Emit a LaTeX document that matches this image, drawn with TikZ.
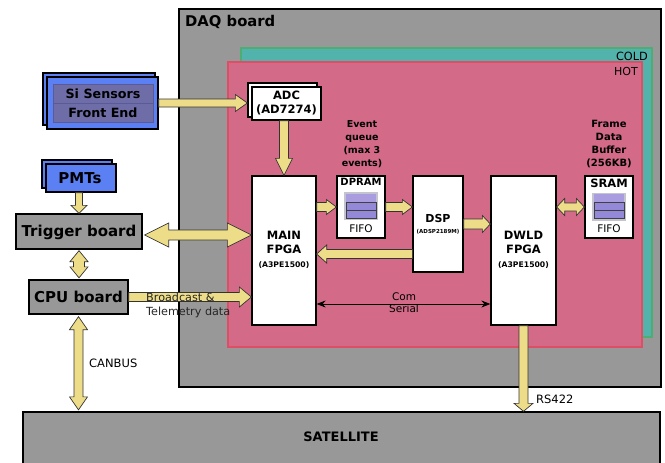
\documentclass[tikz,border=0pt]{standalone}
\usepackage{fontspec}
\setmainfont{DejaVu Sans}
\usetikzlibrary{calc,fit,arrows.meta}
\definecolor{daqgray}{HTML}{989898}
\definecolor{coldfill}{HTML}{52B3AC}
\definecolor{colddraw}{HTML}{4EAD72}
\definecolor{hotfill}{HTML}{D36A88}
\definecolor{hotdraw}{HTML}{DE4F66}
\definecolor{sensblue}{HTML}{5B80F4}
\definecolor{sensin}{HTML}{6E6DA8}
\definecolor{sensedge}{HTML}{5A5A98}
\definecolor{arrowyel}{HTML}{EEDD88}
\definecolor{fifoframe}{HTML}{C4C4D0}
\definecolor{fifotop}{HTML}{A99DE0}
\definecolor{fifobar}{HTML}{9488D8}
\tikzset{
  box/.style={draw=black, line width=1.3pt, inner sep=0pt},
  fatarr/.style={fill=arrowyel, draw=black!80, line width=0.7pt, line join=miter},
  bt/.style={font=\bfseries\fontsize{#1}{#1}\selectfont, inner sep=0pt, text height=#1*0.73pt, text depth=0pt},
  rt/.style={font=\fontsize{#1}{#1}\selectfont, inner sep=0pt, text height=#1*0.73pt, text depth=0pt},
  fifoicon/.pic={
    \fill[fifoframe] (-17,-14) rectangle (17,14);
    \fill[fifotop] (-15,-12.5) rectangle (15,12);
    \draw[fill=fifobar, draw=black!75, line width=0.8pt] (-15,-4) rectangle (15,4);
    \draw[fill=fifobar, draw=black!75, line width=0.8pt] (-15,4) rectangle (15,12);
  }
}
\newcommand{\fatone}[5]{%
  \coordinate (fH) at ($(#2)!#5!(#1)$);
  \filldraw[fatarr] ($(#1)!#3!90:(#2)$) -- ($(fH)!#3!90:(#2)$) -- ($(fH)!#4!90:(#2)$) -- (#2)
    -- ($(fH)!#4!-90:(#2)$) -- ($(fH)!#3!-90:(#2)$) -- ($(#1)!#3!-90:(#2)$) -- cycle;}
\newcommand{\fattwo}[5]{%
  \coordinate (fHa) at ($(#1)!#5!(#2)$);
  \coordinate (fHb) at ($(#2)!#5!(#1)$);
  \filldraw[fatarr] (#1) -- ($(fHa)!#4!90:(#2)$) -- ($(fHa)!#3!90:(#2)$) -- ($(fHb)!#3!90:(#2)$)
    -- ($(fHb)!#4!90:(#2)$) -- (#2) -- ($(fHb)!#4!-90:(#2)$) -- ($(fHb)!#3!-90:(#2)$)
    -- ($(fHa)!#3!-90:(#2)$) -- ($(fHa)!#4!-90:(#2)$) -- cycle;}
\begin{document}
\begin{tikzpicture}[x=1pt,y=-1pt]
\useasboundingbox (0,0) rectangle (665,463);
% DAQ board and thermal zones
\node[box, fill=daqgray, fit={(179,9) (661,387)}] (daq) {};
\node[bt=14.8, anchor=west] (daqlbl) at (185,21) {DAQ board};
\node[fit={(241,48) (652,337)}, inner sep=0pt, draw=colddraw, fill=coldfill, line width=1.4pt] (cold) {};
\node[rt=11.3, anchor=east] (coldlbl) at (648,56) {COLD};
\node[fit={(228,62) (642,347)}, inner sep=0pt, draw=hotdraw, fill=hotfill, line width=1.4pt] (hot) {};
\node[rt=11, anchor=east] (hotlbl) at (638,71) {HOT};
% Si sensors
\node[box, fill=sensblue, fit={(43,73) (155,125)}] (sib) {};
\node[box, fill=sensblue, fit={(47,77) (158,129)}] (si) {};
\node[fit={(53,84) (153,103)}, inner sep=0pt, draw=sensedge, fill=sensin, line width=0.8pt] (sitop) {};
\node[fit={(53,103) (153,122)}, inner sep=0pt, draw=sensedge, fill=sensin, line width=0.8pt] (sibot) {};
\node[bt=12.7] (sitxt) at (103,94) {Si Sensors};
\node[bt=12.7] (fetxt) at (103,113) {Front End};
% PMTs
\node[box, fill=sensblue, fit={(42,160) (112,188)}] (pmtb) {};
\node[box, fill=sensblue, fit={(46,164) (116,192)}] (pmt) {};
\node[bt=15] (pmttxt) at (80,178) {PMTs};
% Trigger / CPU
\node[box, fill=daqgray, fit={(16,214) (142,249)}] (trig) {};
\node[bt=15] (trigtxt) at (79,231) {Trigger board};
\node[box, fill=daqgray, fit={(29,280) (128,314)}] (cpu) {};
\node[bt=15] (cputxt) at (78.5,297) {CPU board};
% Satellite
\node[box, fill=daqgray, fit={(23,412) (660,468)}] (sat) {};
\node[bt=13] (sattxt) at (341,437) {SATELLITE};
% ADC
\node[box, fill=white, fit={(248,83) (317,117)}] (adcb) {};
\node[box, fill=white, fit={(252,87) (321,120)}] (adc) {};
\node[bt=11.5] (adct1) at (286.5,95) {ADC};
\node[bt=11.5] (adct2) at (286.5,109) {(AD7274)};
% MAIN FPGA
\node[box, fill=white, fit={(252,176) (316,325)}] (main) {};
\node[bt=11.5] (maint1) at (284,235) {MAIN};
\node[bt=11.5] (maint2) at (284,249) {FPGA};
\node[bt=7.7] (maint3) at (284,265) {(A3PE1500)};
% DPRAM
\node[box, fill=white, fit={(337,176) (385,238)}] (dpram) {};
\node[bt=10] (dpramt) at (361,182) {DPRAM};
\pic at (361,206) {fifoicon};
\node[rt=10.5] (dpramf) at (361,229) {FIFO};
\node[bt=9.5] (eq1) at (362,124) {Event};
\node[bt=9.5] (eq2) at (362,137) {queue};
\node[bt=9.5] (eq3) at (362,150) {(max 3};
\node[bt=9.5] (eq4) at (362,163) {events)};
% DSP
\node[box, fill=white, fit={(413,176) (463,272)}] (dsp) {};
\node[bt=11] (dspt1) at (438,218) {DSP};
\node[bt=5.5] (dspt2) at (438,231) {(ADSP2189M)};
% DWLD FPGA
\node[box, fill=white, fit={(491,176) (556,325)}] (dwld) {};
\node[bt=11.5] (dwldt1) at (523.5,235) {DWLD};
\node[bt=11.5] (dwldt2) at (523.5,249) {FPGA};
\node[bt=7.7] (dwldt3) at (523.5,265) {(A3PE1500)};
% SRAM
\node[box, fill=white, fit={(585,176) (633,238)}] (sram) {};
\node[bt=11.5] (sramt) at (609,183) {SRAM};
\pic at (609,206.5) {fifoicon};
\node[rt=10.5] (sramf) at (609,229) {FIFO};
\node[bt=10] (fb1) at (609,124) {Frame};
\node[bt=10] (fb2) at (609,137) {Data};
\node[bt=10] (fb3) at (609,150) {Buffer};
\node[bt=10] (fb4) at (609,163) {(256KB)};
% connector end points
\coordinate (siend) at (adcb.west |- si.east);
\coordinate (adcstart) at (main.north |- adc.south);
\coordinate (pmtstart) at (trig.north |- pmt.south);
\coordinate (trigst) at ([shift={(2,3.5)}]trig.east);
\coordinate (trigen) at (main.west |- trigst);
\coordinate (tcA) at ([yshift=-1pt]trig.south);
\coordinate (tcB) at ([yshift=1.5pt]trig.south |- cpu.north);
\coordinate (cpuend) at (main.west |- cpu.east);
\coordinate (csA) at ([yshift=-2pt]cpu.south);
\coordinate (csB) at ([yshift=1.5pt]cpu.south |- sat.north);
\coordinate (mdA) at (main.east |- dpram.west);
\coordinate (ddB) at (dsp.west |- dpram.east);
\coordinate (dwB) at (dwld.west |- dsp.east);
\coordinate (dmA) at (dsp.west |- 0,254);
\coordinate (dmB) at (main.east |- dmA);
\coordinate (dsA) at (dwld.east |- sram.west);
\coordinate (rsB) at (dwld.south |- sat.north);
\coordinate (comA) at (main.east |- 0,304);
\coordinate (comB) at (dwld.west |- comA);
% fat arrows
\fatone{si.east}{siend}{4pt}{8.5pt}{12pt}
\fatone{adcstart}{main.north}{4.5pt}{8.5pt}{17pt}
\fatone{pmtstart}{trig.north}{3.5pt}{8pt}{8pt}
\fattwo{trigst}{trigen}{5pt}{12pt}{24pt}
\fattwo{tcA}{tcB}{5.5pt}{9pt}{11pt}
\fatone{cpu.east}{cpuend}{4.5pt}{10pt}{12pt}
\fattwo{csA}{csB}{4.5pt}{9pt}{13pt}
\fatone{mdA}{dpram.west}{4.5pt}{7.5pt}{10pt}
\fatone{dpram.east}{ddB}{4.5pt}{7.5pt}{10pt}
\fatone{dsp.east}{dwB}{5pt}{8.5pt}{8pt}
\fatone{dmA}{dmB}{4.5pt}{9pt}{10pt}
\fattwo{dsA}{sram.west}{4pt}{8.5pt}{8pt}
\fatone{dwld.south}{rsB}{4.5pt}{9.5pt}{8pt}
% com serial
\draw[{Stealth[length=9pt,width=7pt]}-{Stealth[length=9pt,width=7pt]}, line width=0.8pt] (comA) -- (comB);
\node[rt=10.5] (comt1) at (404,297) {Com};
\node[rt=10.5] (comt2) at (404,309) {Serial};
% labels
\node[rt=11.2, anchor=west, text=black!85] (bc1) at (146,297) {Broadcast \&};
\node[rt=11.2, anchor=west, text=black!85] (bc2) at (146,311) {Telemetry data};
\node[rt=11.5, anchor=west] (canbus) at (89,363) {CANBUS};
\node[rt=11.5, anchor=west] (rs422) at (536,399) {RS422};
\end{tikzpicture}
\end{document}
